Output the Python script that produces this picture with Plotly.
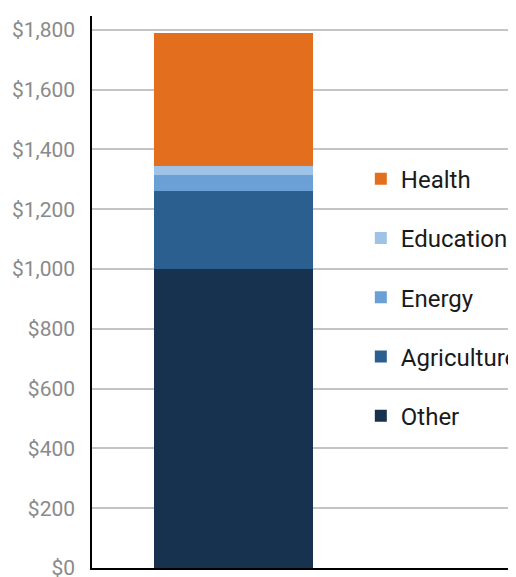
import plotly.graph_objects as go

# stacked funding by sector (single bar)
sectors = ["Other", "Agriculture", "Energy", "Education", "Health"]
values = [1000, 262, 53, 30, 445]
colors = ["#16324F", "#2A5F8F", "#6AA0D6", "#9EC3E7", "#E36F1E"]

fig = go.Figure()
for i, (name, val, col) in enumerate(zip(sectors, values, colors)):
    fig.add_trace(go.Bar(
        x=[0], y=[val], name=name, width=1,
        marker=dict(color=col, line=dict(width=0)),
        legendgroup=name, legendrank=len(sectors) - i,
    ))

# page body has an 8px margin, so the figure is sized to fit the rest of the window
fig.update_layout(
    barmode="stack",
    width=508, height=569,
    margin=dict(l=84, r=0, t=8, b=9, autoexpand=False),
    plot_bgcolor="white", paper_bgcolor="white",
    legend=dict(
        traceorder="grouped",
        x=0.634, xanchor="left",
        y=0.745, yanchor="top",
        tracegroupgap=25,
        font=dict(family="Roboto, Arial", size=24, color="#1a1a1a"),
        bgcolor="rgba(0,0,0,0)",
    ),
    xaxis=dict(
        range=[-0.89, 1.777], showticklabels=False, showgrid=False,
        zeroline=False, showline=True, linecolor="black", linewidth=1.5,
        fixedrange=True, automargin=False,
    ),
    yaxis=dict(
        range=[0, 1846], dtick=200, tickprefix="$", tickformat=",",
        showgrid=True, gridcolor="#c4c4c4", gridwidth=1.5,
        zeroline=False, showline=True, linecolor="black", linewidth=1.5,
        ticks="", ticklabelstandoff=11, automargin=False,
        ticklabeloverflow="allow",
        tickfont=dict(family="Roboto, Arial", size=21, color="#8a8a8a"),
    ),
)

fig.write_html("out.html")
